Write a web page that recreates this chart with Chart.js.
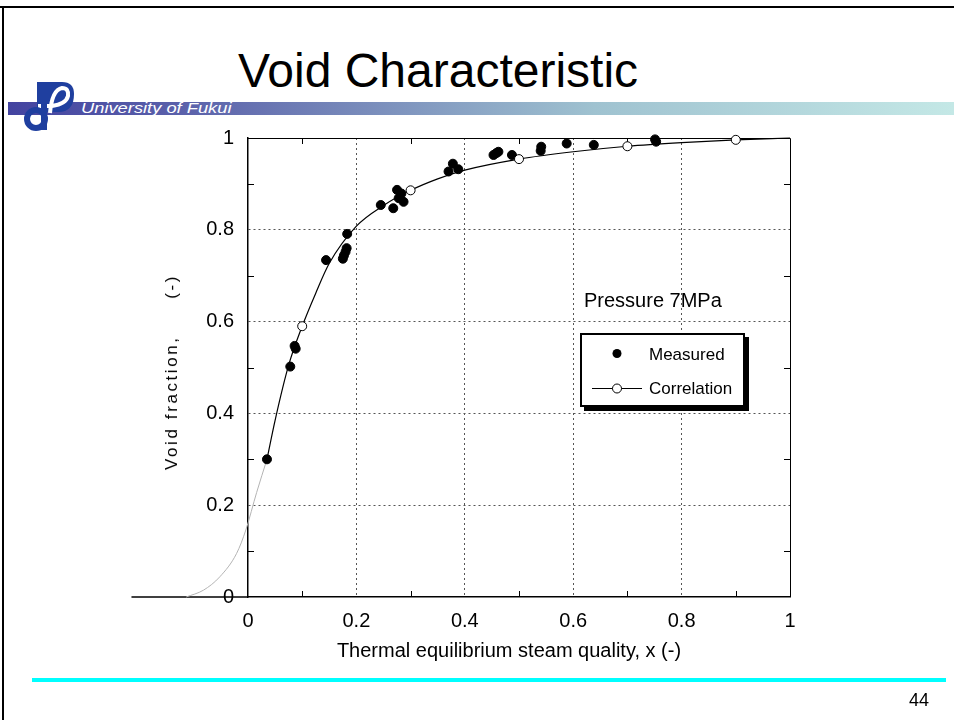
<!DOCTYPE html>
<html>
<head>
<meta charset="utf-8">
<title>Void Characteristic</title>
<script src="https://cdn.jsdelivr.net/npm/chart.js"></script>
<style>
  html, body { margin: 0; padding: 0; background: #fff; }
  body { position: relative; width: 954px; height: 720px; overflow: hidden; font-family: "Liberation Sans", Arial, sans-serif; color: #000; }
  #frameTop { position: absolute; left: 0; top: 6px; width: 954px; height: 2px; background: #000; }
  #frameLeft { position: absolute; left: 2px; top: 6px; width: 2px; height: 714px; background: #000; }
  #title { position: absolute; left: 0; top: 47px; width: 876px; text-align: center; font-size: 48px; line-height: 48px; }
  #band { position: absolute; left: 8px; top: 102px; width: 946px; height: 13px;
          background: linear-gradient(to right, #4343a0 0%, #5a60aa 18%, #9fc2d0 62%, #c4e8e6 100%); }
  #uni { position: absolute; left: 81px; top: 100px; font-size: 15px; line-height: 15px; font-style: italic; color: #fff;
         transform: scaleX(1.22); transform-origin: left top; white-space: nowrap; }
  #logo { position: absolute; left: 22px; top: 82px; }
  #chart { position: absolute; left: 0; top: 0; }
  #pressure { position: absolute; left: 584px; top: 290px; font-size: 20px; line-height: 20px; white-space: nowrap; }
  #legend { position: absolute; left: 580px; top: 333px; width: 161px; height: 70px; border: 2px solid #000; background: #fff;
            box-shadow: 4px 4px 0 #000; }
  #legend svg { position: absolute; left: 0; top: 0; }
  #legend .lab { position: absolute; left: 67px; font-size: 17px; line-height: 17px; white-space: nowrap; }
  #xTitle { position: absolute; left: 0; top: 640px; width: 1018px; text-align: center; font-size: 20px; line-height: 20px; white-space: nowrap; }
  #yTitle { position: absolute; left: 172px; top: 372px; transform: translate(-50%, -50%) rotate(-90deg);
            font-size: 17px; letter-spacing: 2.6px; white-space: pre; }
  #footLine { position: absolute; left: 32px; top: 678px; width: 914px; height: 4px; background: #00ffff; }
  #pageNo { position: absolute; left: 909px; top: 691px; font-size: 18px; line-height: 18px; }
</style>
</head>
<body>
<div id="frameTop"></div>
<div id="frameLeft"></div>
<div id="title">Void Characteristic</div>
<div id="band"></div>
<svg id="logo" width="56" height="50" viewBox="0 0 56 50">
  <path d="M15 0 H40 Q52 0 52 12 Q52 30 36 30 H15 Z" fill="#1f3f9f"/>
  <path d="M28 31 Q30 8 40 6 Q47 6 46 14 Q44 22 30 24 H16" fill="none" stroke="#fff" stroke-width="4"/>
  <circle cx="14" cy="37" r="9" fill="none" stroke="#1f3f9f" stroke-width="6"/>
  <path d="M22 20 V48" stroke="#1f3f9f" stroke-width="6"/>
</svg>
<div id="uni">University of Fukui</div>

<canvas id="chart" width="954" height="720"></canvas>

<div id="pressure">Pressure 7MPa</div>
<div id="legend">
  <svg width="161" height="70">
    <circle cx="35" cy="18.5" r="4.5" fill="#000"/>
    <line x1="10" y1="53.5" x2="60" y2="53.5" stroke="#000" stroke-width="1"/>
    <circle cx="35" cy="53.5" r="4.5" fill="#fff" stroke="#000" stroke-width="1"/>
  </svg>
  <div class="lab" style="top:11px">Measured</div>
  <div class="lab" style="top:45px">Correlation</div>
</div>
<div id="xTitle">Thermal equilibrium steam quality, x (-)</div>
<div id="yTitle">Void fraction,     (-)</div>
<div id="footLine"></div>
<div id="pageNo">44</div>

<script>
  // measured void fraction vs. steam quality (7 MPa)
  const measuredX = [0.035, 0.078, 0.086, 0.088, 0.144, 0.175, 0.177, 0.180, 0.182, 0.183,
                     0.245, 0.268, 0.275, 0.278, 0.283, 0.287, 0.370, 0.378, 0.388,
                     0.453, 0.458, 0.462, 0.487, 0.540, 0.541, 0.588, 0.638, 0.751, 0.753];
  const measuredY = [0.300, 0.502, 0.547, 0.541, 0.734, 0.737, 0.744, 0.752, 0.760, 0.791,
                     0.854, 0.847, 0.887, 0.869, 0.879, 0.861, 0.927, 0.944, 0.932,
                     0.963, 0.967, 0.970, 0.963, 0.972, 0.981, 0.988, 0.985, 0.997, 0.992];

  // correlation curve and its marked points
  const curveX = [0.035, 0.05, 0.075, 0.1, 0.125, 0.15, 0.2, 0.25, 0.3, 0.35, 0.4, 0.5, 0.6, 0.7, 0.8, 0.9, 1.0];
  const curveY = [0.300, 0.385, 0.505, 0.590, 0.662, 0.727, 0.808, 0.853, 0.886, 0.911, 0.930, 0.954, 0.970, 0.982, 0.990, 0.996, 1.000];
  const corrX = [0.1, 0.3, 0.5, 0.7, 0.9];
  const corrY = [0.590, 0.886, 0.954, 0.982, 0.996];

  // faint continuation of the correlation below the first measured point
  const tailX = [-0.114, -0.082, -0.052, -0.021, -0.004, 0.016, 0.035];
  const tailY = [0.000, 0.015, 0.044, 0.095, 0.146, 0.228, 0.300];

  // zero line running left of the origin
  const baseX = [-0.215, 0];
  const baseY = [0, 0];

  const xTickLabels = ['0', '0.2', '0.4', '0.6', '0.8', '1'];
  const yTickLabels = ['0', '0.2', '0.4', '0.6', '0.8', '1'];

  const pts = (xs, ys) => xs.map((x, i) => ({ x: x, y: ys[i] }));

  Chart.defaults.font.family = '"Liberation Sans", Arial, sans-serif';
  Chart.defaults.color = '#000';

  // top/right edges of the plot box plus the short inward ticks between labels
  const boxTicks = {
    id: 'boxTicks',
    beforeDatasetsDraw(chart) {
      const { ctx, chartArea: a, scales: { x, y } } = chart;
      const len = 6;
      ctx.save();
      ctx.strokeStyle = '#000';
      ctx.lineWidth = 1;
      ctx.beginPath();
      ctx.moveTo(a.left, a.top + 0.5);
      ctx.lineTo(a.right + 0.5, a.top + 0.5);
      ctx.lineTo(a.right + 0.5, a.bottom);
      for (let i = 0; i < x.ticks.length - 1; i++) {
        const px = Math.round(x.getPixelForValue((x.ticks[i].value + x.ticks[i + 1].value) / 2)) + 0.5;
        ctx.moveTo(px, a.bottom); ctx.lineTo(px, a.bottom - len);
        ctx.moveTo(px, a.top); ctx.lineTo(px, a.top + len);
      }
      for (let i = 0; i < y.ticks.length - 1; i++) {
        const py = Math.round(y.getPixelForValue((y.ticks[i].value + y.ticks[i + 1].value) / 2)) + 0.5;
        ctx.moveTo(a.left, py); ctx.lineTo(a.left + len, py);
        ctx.moveTo(a.right, py); ctx.lineTo(a.right - len, py);
      }
      ctx.stroke();
      ctx.restore();
    }
  };

  const innerGrid = c => (c.index > 0 && c.index < 5) ? '#555' : 'rgba(0,0,0,0)';

  new Chart(document.getElementById('chart'), {
    type: 'scatter',
    data: {
      datasets: [
        {
          label: 'Correlation',
          data: pts(corrX, corrY),
          pointRadius: 4.5,
          pointBackgroundColor: '#fff',
          pointBorderColor: '#000',
          pointBorderWidth: 1,
          showLine: false,
          clip: false,
          order: 0
        },
        {
          label: 'Measured',
          data: pts(measuredX, measuredY),
          pointRadius: 4.5,
          pointBackgroundColor: '#000',
          pointBorderColor: '#000',
          pointBorderWidth: 1,
          showLine: false,
          clip: false,
          order: 1
        },
        {
          label: 'curve',
          data: pts(curveX, curveY),
          showLine: true,
          borderColor: '#000',
          borderWidth: 1.2,
          pointRadius: 0,
          cubicInterpolationMode: 'monotone',
          clip: false,
          order: 2
        },
        {
          label: 'tail',
          data: pts(tailX, tailY),
          showLine: true,
          borderColor: '#b4b4b4',
          borderWidth: 1,
          pointRadius: 0,
          cubicInterpolationMode: 'monotone',
          clip: false,
          order: 3
        },
        {
          label: 'base',
          data: pts(baseX, baseY),
          showLine: true,
          borderColor: '#000',
          borderWidth: 1.5,
          pointRadius: 0,
          clip: false,
          order: 4
        }
      ]
    },
    options: {
      responsive: false,
      animation: false,
      events: [],
      layout: { padding: { left: 0, top: 138, right: 164, bottom: 0 } },
      plugins: { legend: { display: false }, tooltip: { enabled: false } },
      scales: {
        x: {
          type: 'linear',
          afterDataLimits: s => { s.min = 0; s.max = 1; },
          afterFit: s => { s.height = 123; },
          ticks: {
            stepSize: 0.2,
            padding: 12,
            font: { size: 20 },
            callback: (v, i) => xTickLabels[i]
          },
          grid: { color: innerGrid, lineWidth: 1, drawTicks: false },
          border: { display: true, color: '#000', width: 1.5, dash: [2, 3] }
        },
        y: {
          type: 'linear',
          afterDataLimits: s => { s.min = 0; s.max = 1; },
          afterFit: s => { s.width = 248; },
          ticks: {
            stepSize: 0.2,
            padding: 14,
            font: { size: 20 },
            callback: (v, i) => yTickLabels[i]
          },
          grid: { color: innerGrid, lineWidth: 1, drawTicks: false },
          border: { display: true, color: '#000', width: 1.5, dash: [2, 3] }
        }
      }
    },
    plugins: [boxTicks]
  });
</script>
</body>
</html>
